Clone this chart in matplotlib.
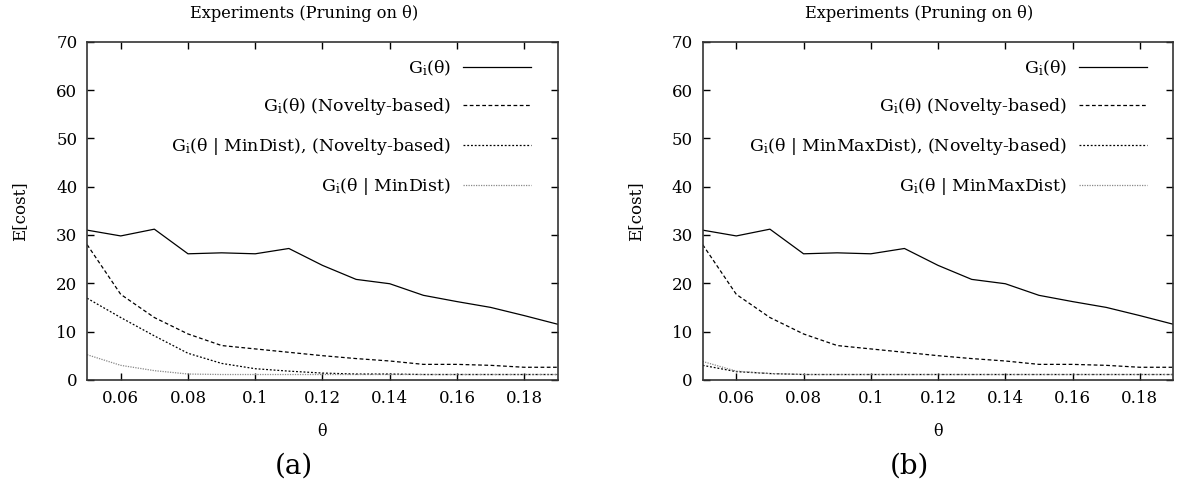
import matplotlib.pyplot as plt
import matplotlib

matplotlib.rcParams["font.family"] = "DejaVu Serif"
matplotlib.rcParams["mathtext.fontset"] = "dejavuserif"

# theta values (x axis)
theta = [0.05, 0.06, 0.07, 0.08, 0.09, 0.10, 0.11, 0.12, 0.13, 0.14, 0.15, 0.16, 0.17, 0.18, 0.19]

# shared curves
g_plain = [31.0, 29.8, 31.2, 26.1, 26.3, 26.1, 27.2, 23.7, 20.8, 19.9, 17.5, 16.2, 15.0, 13.3, 11.5]
g_novelty = [28.0, 17.7, 12.9, 9.5, 7.1, 6.4, 5.7, 5.0, 4.4, 3.9, 3.2, 3.2, 3.0, 2.6, 2.6]

# panel (a): MinDist
a_mindist_nov = [16.9, 12.9, 9.1, 5.5, 3.4, 2.3, 1.8, 1.4, 1.2, 1.2, 1.1, 1.1, 1.1, 1.1, 1.1]
a_mindist = [5.2, 3.0, 1.9, 1.2, 1.1, 1.1, 1.1, 1.1, 1.1, 1.1, 1.1, 1.1, 1.1, 1.1, 1.1]

# panel (b): MinMaxDist
b_minmax_nov = [3.0, 1.7, 1.3, 1.1, 1.1, 1.1, 1.1, 1.1, 1.1, 1.1, 1.1, 1.1, 1.1, 1.1, 1.1]
b_minmax = [3.8, 1.8, 1.3, 1.1, 1.1, 1.1, 1.1, 1.1, 1.1, 1.1, 1.1, 1.1, 1.1, 1.1, 1.1]

x_ticks = [0.06, 0.08, 0.10, 0.12, 0.14, 0.16, 0.18]
y_ticks = [0, 10, 20, 30, 40, 50, 60, 70]

font_size = 12
line_width = 0.9
gi = r"G$_\mathrm{i}$"

panels = [
    ("(a)", [0.074, 0.228, 0.400, 0.687], "MinDist", a_mindist_nov, a_mindist),
    ("(b)", [0.597, 0.228, 0.400, 0.687], "MinMaxDist", b_minmax_nov, b_minmax),
]

fig = plt.figure(figsize=(11.77, 4.92), dpi=100)

for tag, rect, dist, nov_vals, dist_vals in panels:
    ax = fig.add_axes(rect)
    ax.plot(theta, g_plain, color="black", linewidth=line_width, linestyle="-",
            label=f"{gi}(θ)")
    ax.plot(theta, g_novelty, color="black", linewidth=line_width, linestyle=(0, (3, 2)),
            label=f"{gi}(θ) (Novelty-based)")
    ax.plot(theta, nov_vals, color="black", linewidth=line_width, linestyle=(0, (1.5, 1.5)),
            label=f"{gi}(θ | {dist}), (Novelty-based)")
    ax.plot(theta, dist_vals, color="#888888", linewidth=line_width, linestyle=(0, (1, 1)),
            label=f"{gi}(θ | {dist})")

    ax.set_xlim(0.05, 0.19)
    ax.set_ylim(0, 70)
    ax.set_xticks(x_ticks)
    ax.set_xticklabels([f"{t:g}" for t in x_ticks])
    ax.set_yticks(y_ticks)
    ax.tick_params(axis="both", direction="in", top=True, right=True,
                   labelsize=font_size, length=5, width=1, pad=7)
    for sp in ax.spines.values():
        sp.set_linewidth(1.2)
        sp.set_color("#333333")

    ax.set_title("Experiments (Pruning on θ)", fontsize=font_size - 0.3, pad=17, x=0.46)
    ax.set_xlabel("θ", fontsize=font_size - 0.5, labelpad=12)
    ax.set_ylabel("E[cost]", fontsize=font_size, labelpad=20)

    ax.legend(loc="upper right", markerfirst=False, frameon=False, fontsize=font_size + 0.5,
              handlelength=3.9, handletextpad=0.7, labelspacing=1.08,
              borderaxespad=0.65, borderpad=0.3, bbox_to_anchor=(0.978, 1.0))

    ax.text(0.44, -0.255, tag, transform=ax.transAxes, fontsize=20,
            ha="center", va="center")

fig.savefig("out.png", dpi=100)
